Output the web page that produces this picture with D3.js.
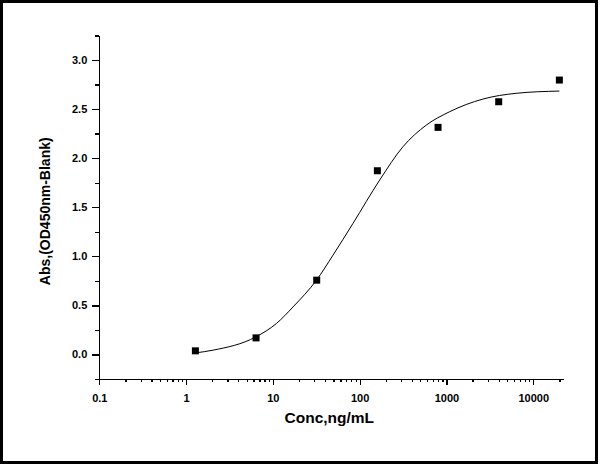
<!DOCTYPE html>
<html>
<head>
<meta charset="utf-8">
<script src="https://cdn.jsdelivr.net/npm/d3@7"></script>
<style>
    body { margin: 0; background: #fff; }
    svg { display: block; font-family: "Liberation Sans", Arial, sans-serif; }
    .axis path, .axis line { stroke: #000; stroke-width: 1.3; shape-rendering: crispEdges; }
    .axis text { font-size: 11px; font-weight: bold; fill: #000; }
    .title { font-weight: bold; fill: #000; }
</style>
</head>
<body>
<svg id="chart" width="600" height="466"></svg>
<script>
// measured points (5-fold dilution series)
const conc = [1.28, 6.4, 32, 160, 800, 4000, 20000];
const absorb = [0.037, 0.169, 0.757, 1.872, 2.314, 2.575, 2.796];

// fitted curve
const fitConc = [1.28, 2.05, 6.36, 11.0, 17.1, 31.8, 49.3, 83.7, 170, 315, 586, 1086, 2624, 6353, 20000];
const fitAbs = [0.016, 0.044, 0.179, 0.316, 0.485, 0.757, 1.012, 1.335, 1.777, 2.116, 2.337, 2.473, 2.602, 2.661, 2.684];

const xMajor = [0.1, 1, 10, 100, 1000, 10000];
const yMajor = [0, 0.5, 1, 1.5, 2, 2.5, 3];

const svg = d3.select('#chart');

// outer frame
svg.append('rect')
    .attr('x', 1.5).attr('y', 1.5)
    .attr('width', 595).attr('height', 461)
    .attr('fill', 'none')
    .attr('stroke', '#000')
    .attr('stroke-width', 3);

const x = d3.scaleLog()
    .domain([0.1, 22200])
    .range([99.3, 563.3]);

const y = d3.scaleLinear()
    .domain([-0.25, 3.25])
    .range([379, 35.5]);

// minor ticks: 2..9 per decade, and quarter steps on y
const xMinor = [];
xMajor.forEach(d => {
    for (let k = 2; k <= 9; k++) {
        if (d * k <= x.domain()[1]) xMinor.push(d * k);
    }
});
const yMinor = yMajor.map(v => v + 0.25).concat([-0.25]);

const xAxisY = y.range()[0];
const yAxisX = x.range()[0];

svg.append('g')
    .attr('class', 'axis')
    .attr('transform', `translate(0,${xAxisY})`)
    .call(d3.axisBottom(x).tickValues(xMinor).tickSize(3).tickSizeOuter(0).tickFormat(''));

svg.append('g')
    .attr('class', 'axis')
    .attr('transform', `translate(0,${xAxisY})`)
    .call(d3.axisBottom(x).tickValues(xMajor).tickSize(6).tickSizeOuter(0).tickPadding(9)
        .tickFormat(d => String(d)));

svg.append('g')
    .attr('class', 'axis')
    .attr('transform', `translate(${yAxisX},0)`)
    .call(d3.axisLeft(y).tickValues(yMinor).tickSize(4).tickSizeOuter(0).tickFormat(''));

svg.append('g')
    .attr('class', 'axis')
    .attr('transform', `translate(${yAxisX},0)`)
    .call(d3.axisLeft(y).tickValues(yMajor).tickSize(7).tickSizeOuter(0).tickPadding(5)
        .tickFormat(d3.format('.1f')));

// axis titles
svg.append('text')
    .attr('class', 'title')
    .attr('x', (x.range()[0] + x.range()[1]) / 2 - 2)
    .attr('y', 423)
    .attr('text-anchor', 'middle')
    .style('font-size', '15.5px')
    .text('Conc,ng/mL');

svg.append('text')
    .attr('class', 'title')
    .attr('transform', `translate(50,${(y.range()[0] + y.range()[1]) / 2 + 4}) rotate(-90)`)
    .attr('text-anchor', 'middle')
    .style('font-size', '14px')
    .text('Abs,(OD450nm-Blank)');

// fitted curve
const line = d3.line()
    .x(d => x(d[0]))
    .y(d => y(d[1]))
    .curve(d3.curveMonotoneX);

svg.append('path')
    .datum(fitConc.map((c, i) => [c, fitAbs[i]]))
    .attr('fill', 'none')
    .attr('stroke', '#000')
    .attr('stroke-width', 1)
    .attr('d', line);

// data points as squares
svg.selectAll('.pt')
    .data(conc.map((c, i) => [c, absorb[i]]))
    .enter().append('rect')
    .attr('class', 'pt')
    .attr('x', d => x(d[0]) - 3.5)
    .attr('y', d => y(d[1]) - 3.5)
    .attr('width', 7)
    .attr('height', 7)
    .attr('fill', '#000');
</script>
</body>
</html>
